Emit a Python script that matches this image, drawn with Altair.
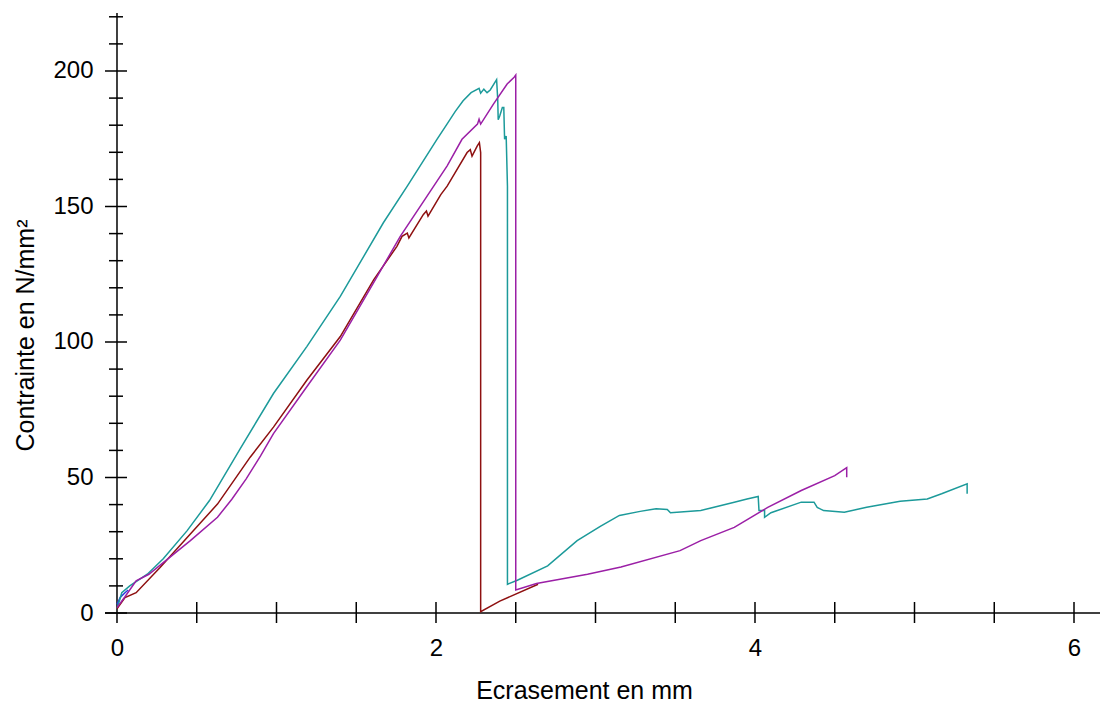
import altair as alt
import pandas as pd

# Courbes contrainte / écrasement (mm, N/mm²)
teal_x = [0, 0.03, 0.08, 0.19, 0.29, 0.44, 0.58, 0.772, 0.981, 1.19, 1.40, 1.67, 1.82, 2.006,
          2.07, 2.12, 2.17, 2.22, 2.27, 2.28, 2.30, 2.32, 2.34, 2.38, 2.387, 2.39, 2.40, 2.416,
          2.425, 2.43, 2.44, 2.448, 2.448, 2.51, 2.70, 2.885, 3.03, 3.15, 3.28, 3.38, 3.45, 3.47,
          3.66, 3.87, 3.95, 4.02, 4.025, 4.06, 4.06, 4.10, 4.29, 4.37, 4.39, 4.43, 4.56, 4.70,
          4.91, 5.08, 5.17, 5.33, 5.33]
teal_y = [1.5, 7.5, 10, 14.3, 20, 30.4, 41.5, 60.6, 81, 98.3, 116.8, 144, 157.5, 174.8,
          180.5, 185, 189, 192, 193.6, 191.8, 193.3, 192, 193, 196.8, 189.6, 182, 183.5, 186.5,
          186.5, 174.8, 176, 157.5, 10.6, 12.1, 17.4, 26.7, 32, 36, 37.5, 38.5, 38.2, 37,
          37.8, 40.9, 42.1, 43, 37.8, 37.8, 35.3, 37, 40.9, 40.9, 39, 37.8, 37.2, 39,
          41.2, 42.1, 44, 47.7, 44]

purple_x = [0, 0.05, 0.12, 0.20, 0.29, 0.46, 0.63, 0.72, 0.81, 0.90, 0.981, 1.19, 1.40, 1.61,
            1.776, 1.944, 2.07, 2.163, 2.26, 2.27, 2.28, 2.36, 2.446, 2.49, 2.50, 2.50, 2.63,
            2.95, 3.16, 3.53, 3.66, 3.87, 4.08, 4.29, 4.50, 4.575, 4.575]
purple_y = [2, 6, 11.9, 14.3, 18.6, 26.7, 35.3, 42, 49.5, 58, 66.2, 83.5, 100.7, 122,
            139, 153.8, 165, 174.8, 180.4, 182.2, 180.4, 187.8, 195.2, 197.7, 198.5, 8.5, 10.9,
            14.3, 17, 23, 26.7, 31.6, 39, 45.2, 50.7, 53.6, 50.1]

red_x = [0, 0.05, 0.12, 0.27, 0.44, 0.63, 0.835, 0.981, 1.19, 1.40, 1.61, 1.755, 1.787, 1.82,
         1.83, 1.92, 1.94, 1.95, 2.03, 2.07, 2.195, 2.215, 2.226, 2.258, 2.272, 2.28, 2.28,
         2.40, 2.64]
red_y = [1.5, 5.7, 7.5, 16.8, 27.9, 40.2, 57.5, 68.6, 85.9, 102, 123, 135.3, 139, 140.2,
         138.4, 147, 148.3, 146.4, 154.4, 157.5, 169.9, 171, 168.6, 172.3, 173.6, 169.9, 0.5,
         4.4, 10.6]

blue_x = [0, 0.02, 0.05, 0.07]
blue_y = [3.2, 5.7, 7.5, 8.5]

# Graduations
x_labels = [0, 2, 4, 6]
x_ticks = [0.5, 1.0, 1.5, 2.0, 2.5, 3.0, 3.5, 4.0, 4.5, 5.0, 5.5, 6.0]
y_labels = [0, 50, 100, 150, 200]
y_minor = [10, 20, 30, 40, 60, 70, 80, 90, 110, 120, 130, 140, 160, 170, 180, 190, 210, 220]

FONT = "Liberation Sans"
W, H = 995, 610

xs = alt.Scale(domain=[-0.0752, 6.163], nice=False, zero=False)
ys = alt.Scale(domain=[-3.69, 221.4], nice=False, zero=False)

xaxis = alt.Axis(values=x_labels, format="d", domain=False, ticks=False, grid=False,
                 labelFont=FONT, labelFontSize=24, labelColor="black", labelPadding=13,
                 labelFlush=False, title="Ecrasement en mm", titleFont=FONT,
                 titleFontSize=25, titleFontWeight="normal", titleColor="black",
                 titleX=479, titleY=75, titleAlign="center", titleBaseline="alphabetic")
yaxis = alt.Axis(values=y_labels, format="d", domain=False, ticks=False, grid=False,
                 labelFont=FONT, labelFontSize=24, labelColor="black", labelPadding=12,
                 title="Contrainte en N/mm²", titleFont=FONT, titleFontSize=25,
                 titleFontWeight="normal", titleColor="black", titleAngle=270,
                 titleX=-72, titleY=322, titleAlign="center", titleBaseline="alphabetic")


def curve(xv, yv, color):
    df = pd.DataFrame({"x": xv, "y": yv, "i": range(len(xv))})
    return alt.Chart(df).mark_line(color=color, strokeWidth=1.5).encode(
        x=alt.X("x:Q", scale=xs, axis=xaxis),
        y=alt.Y("y:Q", scale=ys, axis=yaxis),
        order="i:Q",
    )


# Axes croisés à l'origine
x_line = alt.Chart(pd.DataFrame({"v": [0]})).mark_rule(color="black", strokeWidth=1.5).encode(
    y=alt.Y("v:Q", scale=ys, axis=yaxis), x=alt.value(0), x2=alt.value(W))
y_line = alt.Chart(pd.DataFrame({"v": [0]})).mark_rule(color="black", strokeWidth=1.5).encode(
    x=alt.X("v:Q", scale=xs, axis=xaxis), y=alt.value(0), y2=alt.value(H))

x_tick_marks = alt.Chart(pd.DataFrame({"v": x_ticks})).mark_rule(color="black", strokeWidth=1.5).encode(
    x=alt.X("v:Q", scale=xs, axis=xaxis), y=alt.value(H - 21), y2=alt.value(H))
y_major_marks = alt.Chart(pd.DataFrame({"v": y_labels})).mark_rule(color="black", strokeWidth=1.5).encode(
    y=alt.Y("v:Q", scale=ys, axis=yaxis), x=alt.value(0), x2=alt.value(22))
y_minor_marks = alt.Chart(pd.DataFrame({"v": y_minor})).mark_rule(color="black", strokeWidth=1.5).encode(
    y=alt.Y("v:Q", scale=ys, axis=yaxis), x=alt.value(4), x2=alt.value(18))

chart = alt.layer(
    x_line, y_line, x_tick_marks, y_major_marks, y_minor_marks,
    curve(blue_x, blue_y, "#2a3be0"),
    curve(teal_x, teal_y, "#1c9a9a"),
    curve(red_x, red_y, "#8e1010"),
    curve(purple_x, purple_y, "#9b1fa6"),
).properties(
    width=W, height=H,
    autosize=alt.AutoSizeParams(type="none"),
    padding={"left": 105, "top": 13, "right": 3, "bottom": 80},
    background="white",
).configure_view(stroke=None)

chart.save("out.html", embed_options={"renderer": "svg", "actions": False})
